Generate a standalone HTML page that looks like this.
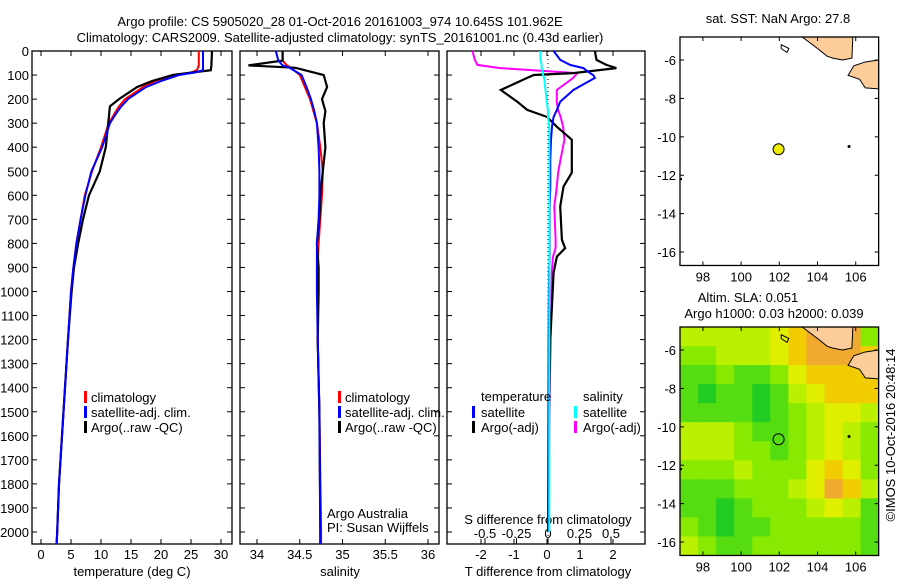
<!DOCTYPE html>
<html><head><meta charset="utf-8"><style>
body{margin:0;background:#fff;font-family:"Liberation Sans",sans-serif;}
svg text{font-family:"Liberation Sans",sans-serif;font-size:13px;fill:#000;}
</style></head><body>
<svg id="fig" width="900" height="580" viewBox="0 0 900 580" xmlns="http://www.w3.org/2000/svg">
<text x="340" y="26" text-anchor="middle">Argo profile: CS 5905020_28 01-Oct-2016 20161003_974 10.645S 101.962E</text>
<text x="340" y="42" text-anchor="middle">Climatology: CARS2009. Satellite-adjusted climatology: synTS_20161001.nc (0.43d earlier)</text>
<g id="g"></g>
</svg>
<script>
// ---- data ----
const depthTicks=[0,100,200,300,400,500,600,700,800,900,1000,1100,1200,1300,1400,1500,1600,1700,1800,1900,2000];
const tempTicks=[0,5,10,15,20,25,30];
const salTicks=[34,34.5,35,35.5,36];
const tdiffTicks=[-2,-1,0,1,2];
const sdiffTicks=[-0.5,-0.25,0,0.25,0.5];
const tDepth=[0,60,80,90,100,125,150,200,230,250,280,300,400,500,600,700,800,900,1000,1200,1400,1600,1800,2000,2050];
const tClim=[26.3,26.3,26.0,25,22,19,17,14,13,12.5,11.8,11.3,10,8.5,7.3,6.6,5.9,5.4,5.0,4.5,4.0,3.5,3.0,2.7,2.6];
const tSat=[27,27,27,25.5,23,20,17.5,14.5,13.4,12.8,12,11.5,10.2,8.4,7.4,6.6,5.9,5.4,5.0,4.5,4.0,3.5,3.0,2.7,2.6];
const tArgo=[28.5,28.4,28.3,25,22,18.5,16,13,11.5,11.4,11.3,11.2,10.8,9.8,8,7,6.2,5.5,5.1,4.5,4.0,3.5,3.0,2.7,2.6];
const sDepth=[0,40,60,70,100,150,200,250,300,400,500,600,700,800,900,1000,1200,1500,2000,2050];
const sClim=[34.3,34.3,34.35,34.4,34.5,34.56,34.62,34.66,34.7,34.74,34.77,34.76,34.74,34.72,34.71,34.71,34.71,34.73,34.75,34.75];
const sSat=[34.22,34.25,34.3,34.38,34.52,34.58,34.63,34.67,34.7,34.72,34.73,34.73,34.72,34.70,34.70,34.70,34.71,34.73,34.74,34.74];
const sArgo=[34.3,34.3,33.9,34.45,34.78,34.82,34.76,34.8,34.78,34.8,34.77,34.74,34.73,34.70,34.72,34.72,34.71,34.73,34.74,34.74];
const dDepth=[0,37,58,71,92,100,112,162,211,245,274,315,369,450,506,564,647,784,820,855,921,1200,1600,2000];
const dTsat=[0.2,0.4,0.7,1.1,1.3,1.4,1.45,0.8,0.4,0.3,0.2,0.15,0.12,0.1,0.1,0.1,0.08,0.08,0.08,0.08,0.06,0.05,0.04,0.03];
const dTargo=[1.45,1.5,1.8,2.1,0.8,-0.4,-0.6,-1.4,-0.9,-0.6,0,0.3,0.75,0.75,0.75,0.5,0.4,0.45,0.55,0.3,0.2,0.1,0.05,0.05];
const dSsat=[-0.06,-0.06,-0.05,-0.05,-0.04,-0.04,-0.03,-0.02,-0.01,0,0,0.01,0.01,0.01,0.01,0.01,0.01,0.01,0.01,0.01,0.01,0.01,0.01,0.01];
const dSargo=[-0.6,-0.58,-0.56,-0.38,0.23,0.22,0.2,0.07,0.07,0.08,0.1,0.12,0.13,0.1,0.08,0.07,0.05,0.06,0.06,0.04,0.03,0.02,0.01,0.0];
const argoLon=[101.962], argoLat=[-10.645];
const slaGrid=[
[3,3,3,3,3,4,5,6,6,6,2],
[2,2,3,3,3,4,5,6,6,6,5],
[1,1,2,1,1,2,4,5,5,5,5],
[1,0,1,1,0,1,3,4,5,5,5],
[1,1,1,1,0,1,2,3,4,4,3],
[3,3,3,2,1,1,2,3,4,3,2],
[3,3,3,2,2,1,2,3,4,3,2],
[2,2,2,3,2,2,2,4,5,4,2],
[1,1,1,2,2,2,3,4,6,5,3],
[1,1,0,1,2,2,2,3,4,3,1],
[2,1,0,1,1,2,2,2,2,2,1],
[3,2,1,1,2,2,2,2,2,2,1]];
const slaColors=["#22cc22","#55dd11","#88ea00","#bbf000","#e0ee00","#f0cc00","#f0aa30"];
const lonTicks=[98,100,102,104,106], latTicks=[-6,-8,-10,-12,-14,-16];
const sumatra=[[103.2,-4.8],[105.85,-4.8],[105.8,-5.9],[105.3,-6.0],[104.8,-5.9],[104.5,-5.8],[104.0,-5.4]];
const java=[[107.2,-6.0],[106.5,-6.1],[105.9,-6.3],[105.6,-6.8],[106.2,-7.0],[106.5,-7.45],[107.2,-7.5]];
const island=[[102.1,-5.2],[102.5,-5.4],[102.4,-5.6],[102.1,-5.4]];
// ---- helpers ----
const NS="http://www.w3.org/2000/svg", G=document.getElementById('g');
function mk(t,a,p){const e=document.createElementNS(NS,t);for(const k in a)e.setAttribute(k,a[k]);(p||G).appendChild(e);return e;}
const yD=d=>51+d*0.2405;
function box(x0,y0,x1,y1,name){const r=mk('rect',{x:x0,y:y0,width:x1-x0,height:y1-y0,fill:'none',stroke:'#000','stroke-width':1.3});
}
function txt(x,y,s,anch,name,extra){const t=mk('text',Object.assign({x:x,y:y,'text-anchor':anch||'start'},extra||{}));t.textContent=s;
return t;}
function line(xs,ys,xf,col,w,name,dash){const p=xs.map((v,i)=>xf(v).toFixed(1)+','+yD(ys[i]).toFixed(1)).join(' ');
const l=mk('polyline',{points:p,fill:'none',stroke:col,'stroke-width':w});if(dash)l.setAttribute('stroke-dasharray',dash);
}
function seg(x1,y1,x2,y2,w){return mk('line',{x1:x1,y1:y1,x2:x2,y2:y2,stroke:'#000','stroke-width':w||1});}
const BOT=544;
// depth axis
depthTicks.forEach(d=>{seg(32,yD(d),37,yD(d));seg(227,yD(d),232,yD(d));seg(240,yD(d),245,yD(d));seg(434,yD(d),439,yD(d));seg(447,yD(d),452,yD(d));seg(640,yD(d),645,yD(d));
txt(29,yD(d)+5,String(d),'end','depth-tick-label');});
// panel 1 temperature
const xT=v=>41+v*6;
box(32,51,232,BOT,'temperature-panel');
tempTicks.forEach(v=>{seg(xT(v),BOT,xT(v),BOT-5);seg(xT(v),51,xT(v),56);txt(xT(v),559,String(v),'middle','temp-tick-label');});
txt(132,576,'temperature (deg C)','middle','temp-axis-title');
line(tClim,tDepth,xT,'#f00',2,'temp-climatology-line');
line(tArgo,tDepth,xT,'#000',2.2,'temp-argo-line');
line(tSat,tDepth,xT,'#00f',2,'temp-satellite-line');
// panel 2 salinity
const xS=v=>257+(v-34)*85.5;
box(240,51,439,BOT,'salinity-panel');
salTicks.forEach(v=>{seg(xS(v),BOT,xS(v),BOT-5);seg(xS(v),51,xS(v),56);txt(xS(v),559,String(v),'middle','sal-tick-label');});
txt(340,576,'salinity','middle','sal-axis-title');
line(sClim,sDepth,xS,'#f00',2,'sal-climatology-line');
line(sArgo,sDepth,xS,'#000',2.2,'sal-argo-line');
line(sSat,sDepth,xS,'#00f',2,'sal-satellite-line');
[84,338].forEach(lx=>{[['climatology','#f00'],['satellite-adj. clim.','#00f'],['Argo(..raw -QC)','#000']].forEach((e,i)=>{
const y=397+i*15;mk('rect',{x:lx,y:y-6,width:3,height:12,fill:e[1]});txt(lx+7,y+5,e[0],'start','legend-entry');});});
txt(327,518,'Argo Australia','start','credit-argo-australia');
txt(327,532,'PI: Susan Wijffels','start','credit-pi');
// panel 3 differences
const xDT=v=>547+v*33, xDS=v=>548+v*126;
box(447,51,645,BOT,'difference-panel');
seg(548,51,548,BOT,1).setAttribute('stroke-dasharray','1,3');
tdiffTicks.forEach(v=>{seg(xDT(v),BOT,xDT(v),BOT-5);seg(xDT(v),51,xDT(v),56);txt(xDT(v),559,String(v),'middle','tdiff-tick-label');});
sdiffTicks.forEach(v=>{seg(xDS(v),BOT,xDS(v),BOT-6);txt(xDS(v),538,String(v),'middle','sdiff-tick-label');});
txt(548,524,'S difference from climatology','middle','sdiff-axis-title');
txt(548,576,'T difference from climatology','middle','tdiff-axis-title');
line(dSargo,dDepth,xDS,'#f0f',2,'sdiff-argo-line');
line(dTargo,dDepth,xDT,'#000',2.2,'tdiff-argo-line');
line(dTsat,dDepth,xDT,'#00f',2,'tdiff-satellite-line');
line(dSsat,dDepth,xDS,'#0ff',2,'sdiff-satellite-line');
txt(481,401,'temperature','start','legend-temperature-header');
txt(583,401,'salinity','start','legend-salinity-header');
[[472,'satellite','#00f'],[472,'Argo(-adj)','#000'],[574,'satellite','#0ff'],[574,'Argo(-adj)','#f0f']].forEach((e,i)=>{
const y=412+(i%2)*15;mk('rect',{x:e[0],y:y-6,width:3,height:12,fill:e[2]});txt(e[0]+9,y+5,e[1],'start','legend-entry');});
// maps
function map(top,name,heat){
const xL=v=>680+(v-96.8)*19.1, yL=v=>top+1+(-4.8-v)*19.2;
const bot=yL(-16.7);
if(heat){const cw=(xL(107.2)-xL(96.8))/11, ch=(bot-yL(-4.8))/12;
slaGrid.forEach((row,r)=>row.forEach((c,k)=>{const e=mk('rect',{x:xL(96.8)+k*cw,y:yL(-4.8)+r*ch,width:cw+0.5,height:ch+0.5,fill:slaColors[c]});
}));}
[sumatra,java].forEach(pg=>{const e=mk('polygon',{points:pg.map(p=>xL(p[0])+','+yL(p[1])).join(' '),fill:'#fccc99',stroke:'#000','stroke-width':1});
});
mk('polygon',{points:island.map(p=>xL(p[0])+','+yL(p[1])).join(' '),fill:'none',stroke:'#000','stroke-width':1});
mk('circle',{cx:xL(105.65),cy:yL(-10.5),r:1.5,fill:'#000'});mk('circle',{cx:xL(96.85),cy:yL(-12.2),r:1.2,fill:'#000'});
box(xL(96.8),yL(-4.8),xL(107.2),bot,name);
lonTicks.forEach(v=>{seg(xL(v),bot,xL(v),bot-4);seg(xL(v),yL(-4.8),xL(v),yL(-4.8)+4);txt(xL(v),bot+16,String(v),'middle','lon-tick-label');});
latTicks.forEach(v=>{seg(xL(96.8),yL(v),xL(96.8)+4,yL(v));seg(xL(107.2),yL(v),xL(107.2)-4,yL(v));txt(xL(96.8)-4,yL(v)+5,String(v),'end','lat-tick-label');});
const c=mk('circle',{cx:xL(argoLon[0]),cy:yL(argoLat[0]),r:5.5,fill:heat?'none':'#eeee00',stroke:'#000','stroke-width':1});

}
txt(778,23,'sat. SST: NaN Argo: 27.8','middle','sst-map-title');
map(36,'sst-map',false);
txt(748,302,'Altim. SLA: 0.051','middle','sla-map-title');
txt(774,318,'Argo h1000: 0.03 h2000: 0.039','middle','sla-map-subtitle');
map(326,'sla-map',true);
txt(0,0,'©IMOS 10-Oct-2016 20:48:14','middle','imos-credit',{transform:'translate(895,435) rotate(-90)'});
</script>
</body></html>
